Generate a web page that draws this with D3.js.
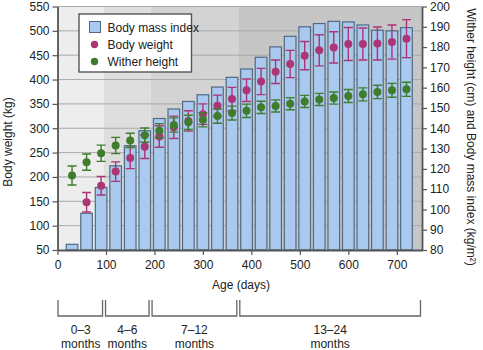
<!DOCTYPE html>
<html lang="en">
<head>
<meta charset="UTF-8">
<title>Body weight, wither height and BMI by age</title>
<script src="https://d3js.org/d3.v7.min.js"></script>
<style>
  body { margin: 0; background: #fff; }
  svg text { font-family: "Liberation Sans Narrow", "Arial Narrow", "Liberation Sans", Arial, sans-serif; font-size: 12px; fill: #222; }
</style>
</head>
<body>
<svg width="483" height="350"></svg>
<script>
// age in days of each measurement
const days = [30, 60, 90, 120, 150, 180, 210, 240, 270, 300, 330, 360,
              390, 420, 450, 480, 510, 540, 570, 600, 630, 660, 690, 720];
// body mass index (kg/m2), right axis
const bmi = [82.8, 98.1, 110.8, 121.5, 131.4, 138.8, 144.8, 149.5, 153.2, 156.5, 160.3, 165.1,
             169.2, 175.0, 180.1, 185.3, 190.0, 191.6, 192.7, 192.4, 190.9, 188.3, 188.0, 189.6];
// body weight (kg), left axis
const weight = [null, 148, 182, 211, 239, 262, 283, 302, 315, 329, 346, 360,
                378, 396, 416, 432, 449, 460, 466, 473, 473, 474, 477, 484];
const weightSd = [null, 20, 19, 20, 22, 24, 22, 23, 21, 21, 22, 24,
                  23, 27, 24, 28, 29, 32, 32, 34, 33, 34, 35, 39];
// wither height (cm), right axis
const height = [116.7, 123.3, 127.7, 131.5, 134.0, 136.6, 138.8, 141.6, 142.9, 144.2, 146.0, 147.5,
                148.6, 150.3, 151.0, 152.1, 153.2, 154.2, 154.9, 155.9, 156.7, 157.9, 158.7, 159.2];
const heightSd = [4.7, 4, 4, 4, 3.5, 3.5, 3.5, 3.5, 3.5, 3.5, 3.5, 3.4,
                  3.3, 3, 3, 3, 3, 3, 3, 3.2, 3.2, 3.3, 3.4, 3.5];
// age periods (shaded bands and brackets)
const periodStart = [0, 96, 192, 373];
const periodEnd = [96, 192, 373, 752];
const periodTop = ["0\u20133", "4\u20136", "7\u201312", "13\u201324"];
const periodColor = ["#ededed", "#dedede", "#d3d3d3", "#c6c6c6"];

const svg = d3.select("svg");
const pLeft = 57.5, pRight = 422, pTop = 6.5, pBottom = 250;

const x = d3.scaleLinear().domain([0, 752]).range([pLeft, pRight]);
const yL = d3.scaleLinear().domain([50, 550]).range([pBottom, pTop]);
const yR = d3.scaleLinear().domain([80, 200]).range([pBottom, pTop]);

// background bands
svg.selectAll(".band").data(periodStart).enter().append("rect")
  .attr("x", (d, i) => x(d)).attr("y", pTop)
  .attr("width", (d, i) => x(periodEnd[i]) - x(d)).attr("height", pBottom - pTop)
  .attr("fill", (d, i) => periodColor[i]);

// gridlines
svg.append("g").selectAll("line").data(d3.range(100, 551, 50)).enter().append("line")
  .attr("x1", pLeft).attr("x2", pRight)
  .attr("y1", d => yL(d)).attr("y2", d => yL(d))
  .attr("stroke", "#a9a9a9").attr("stroke-width", 1);

// BMI bars
svg.append("g").selectAll("rect").data(days).enter().append("rect")
  .attr("x", d => x(d - 12)).attr("width", d => x(d + 12) - x(d - 12))
  .attr("y", (d, i) => yR(bmi[i])).attr("height", (d, i) => pBottom - yR(bmi[i]))
  .attr("fill", "#a9c9ee").attr("stroke", "#4f6b86").attr("stroke-width", 1.2);

function errorSeries(vals, sds, scale, color) {
  const g = svg.append("g");
  const pts = days.map((d, i) => ({ d, v: vals[i], s: sds[i] })).filter(p => p.v != null);
  g.selectAll(".eb").data(pts).enter().append("path")
    .attr("d", p => {
      const cx = x(p.d), y1 = scale(p.v + p.s), y2 = scale(p.v - p.s);
      return `M${cx - 4.5},${y1}H${cx + 4.5}M${cx},${y1}V${y2}M${cx - 4.5},${y2}H${cx + 4.5}`;
    })
    .attr("stroke", color).attr("stroke-width", 1.4).attr("fill", "none");
  g.selectAll("circle").data(pts).enter().append("circle")
    .attr("cx", p => x(p.d)).attr("cy", p => scale(p.v)).attr("r", 4)
    .attr("fill", color);
}
errorSeries(weight, weightSd, yL, "#ac3674");
errorSeries(height, heightSd, yR, "#3f7d2c");

// axes
const axL = svg.append("g").attr("transform", `translate(${pLeft},0)`)
  .call(d3.axisLeft(yL).tickValues(d3.range(50, 551, 50)).tickSize(5).tickSizeOuter(0));
const axR = svg.append("g").attr("transform", `translate(${pRight},0)`)
  .call(d3.axisRight(yR).tickValues(d3.range(80, 201, 10)).tickSize(5).tickSizeOuter(0));
const axB = svg.append("g").attr("transform", `translate(0,${pBottom})`)
  .call(d3.axisBottom(x).tickValues(d3.range(0, 701, 100)).tickSize(5).tickSizeOuter(0));
[axL, axR, axB].forEach(a => {
  a.attr("font-family", null).attr("font-size", null);
  a.select(".domain").attr("stroke", "#555").attr("stroke-width", 1.8);
  a.selectAll(".tick line").attr("stroke", "#555").attr("stroke-width", 1.2);
  a.selectAll("text").attr("fill", "#222");
});
axB.selectAll("text").attr("dy", "0.95em");

// axis titles
svg.append("text").attr("transform", "translate(12,142) rotate(-90)")
  .attr("text-anchor", "middle").text("Body weight (kg)");
svg.append("text").attr("transform", "translate(467,137) rotate(90)")
  .attr("text-anchor", "middle").text("Wither height (cm) and Body mass index (kg/m\u00b2)");
svg.append("text").attr("x", 241).attr("y", 289)
  .attr("text-anchor", "middle").text("Age (days)");

// period brackets
const br = svg.append("g");
br.selectAll("path").data(periodStart).enter().append("path")
  .attr("d", (d, i) => {
    const a = x(d) + (i ? 1.5 : 0.5), b = x(periodEnd[i]) - 1.5;
    return `M${a},300V316H${b}V300`;
  })
  .attr("stroke", "#666").attr("stroke-width", 1.3).attr("fill", "none");
br.selectAll(".p1").data(periodStart).enter().append("text")
  .attr("x", (d, i) => (x(d) + x(periodEnd[i])) / 2).attr("y", 334)
  .attr("text-anchor", "middle").text((d, i) => periodTop[i]);
br.selectAll(".p2").data(periodStart).enter().append("text")
  .attr("x", (d, i) => (x(d) + x(periodEnd[i])) / 2).attr("y", 348)
  .attr("text-anchor", "middle").text("months");

// legend
const lg = svg.append("g");
lg.append("rect").attr("x", 79).attr("y", 14).attr("width", 112.5).attr("height", 58)
  .attr("fill", "#fff").attr("stroke", "#555").attr("stroke-width", 1.4);
lg.append("rect").attr("x", 89.5).attr("y", 21.5).attr("width", 11).attr("height", 11)
  .attr("fill", "#a9c9ee").attr("stroke", "#4f6b86").attr("stroke-width", 1);
lg.append("circle").attr("cx", 94.5).attr("cy", 44.5).attr("r", 3.7).attr("fill", "#ac3674");
lg.append("circle").attr("cx", 94.5).attr("cy", 61.5).attr("r", 3.7).attr("fill", "#3f7d2c");
lg.append("text").attr("x", 107.5).attr("y", 31.5).text("Body mass index");
lg.append("text").attr("x", 107.5).attr("y", 48.5).text("Body weight");
lg.append("text").attr("x", 107.5).attr("y", 65.5).text("Wither height");
</script>
</body>
</html>
